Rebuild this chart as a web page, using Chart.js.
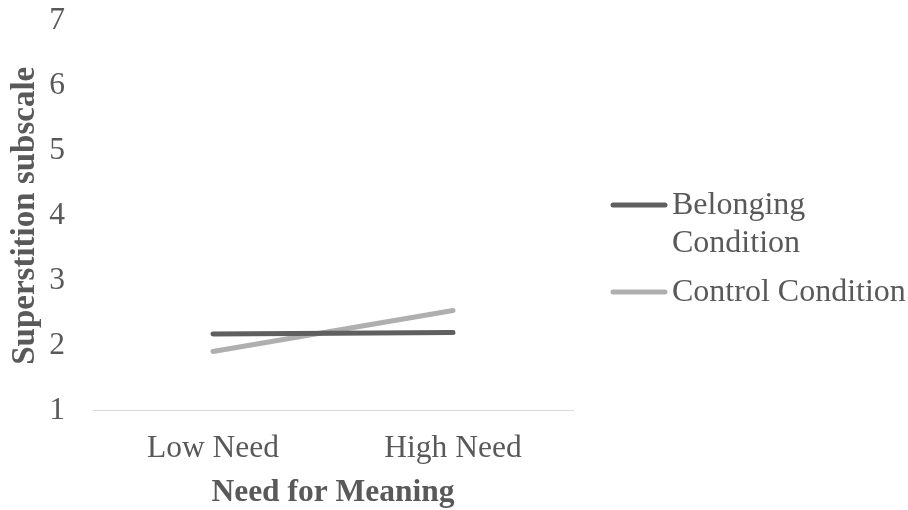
<!DOCTYPE html>
<html>
<head>
<meta charset="utf-8">
<style>
  html, body { margin: 0; padding: 0; background: #ffffff; }
  #wrap { width: 908px; height: 510px; position: relative; }
</style>
<script src="https://cdn.jsdelivr.net/npm/chart.js@4.4.1/dist/chart.umd.min.js"></script>
</head>
<body>
<div id="wrap"><canvas id="chart" width="908" height="510"></canvas></div>
<script>
// Categories and series
const categories = ['Low Need', 'High Need'];
const belongingValues = [2.18, 2.20];
const controlValues = [1.91, 2.54];
const seriesNames = [['Belonging', 'Condition'], ['Control Condition']];
const yTicks = [1, 2, 3, 4, 5, 6, 7];

const TEXT = '#595959';
const FONT = '"Liberation Serif", "Times New Roman", serif';

// Legend on the right, drawn with wrapped labels
const sideLegend = {
  id: 'sideLegend',
  afterDraw(chart) {
    const ctx = chart.ctx;
    const x0 = 613, x1 = 665, tx = 672;
    const rows = [
      { y: 205, ds: 0 },
      { y: 292, ds: 1 }
    ];
    ctx.save();
    ctx.font = '32px ' + FONT;
    ctx.fillStyle = TEXT;
    ctx.textBaseline = 'middle';
    ctx.textAlign = 'left';
    rows.forEach(r => {
      const ds = chart.data.datasets[r.ds];
      ctx.strokeStyle = ds.borderColor;
      ctx.lineWidth = 5;
      ctx.lineCap = 'round';
      ctx.beginPath();
      ctx.moveTo(x0, r.y);
      ctx.lineTo(x1, r.y);
      ctx.stroke();
      const lines = seriesNames[r.ds];
      lines.forEach((t, i) => ctx.fillText(t, tx, r.y + 1 + i * 38));
    });
    ctx.restore();
  }
};

new Chart(document.getElementById('chart'), {
  type: 'line',
  data: {
    labels: categories,
    datasets: [
      {
        label: seriesNames[0].join(' '),
        data: belongingValues,
        borderColor: '#5f5f5f',
        backgroundColor: '#5f5f5f',
        borderWidth: 5,
        borderCapStyle: 'round',
        pointRadius: 0,
        tension: 0
      },
      {
        label: seriesNames[1].join(' '),
        data: controlValues,
        borderColor: '#afafaf',
        backgroundColor: '#afafaf',
        borderWidth: 5,
        borderCapStyle: 'round',
        pointRadius: 0,
        tension: 0
      }
    ]
  },
  options: {
    responsive: false,
    animation: false,
    layout: { padding: { left: 0, right: 335, top: 21, bottom: 0 } },
    plugins: {
      legend: { display: false },
      tooltip: { enabled: false }
    },
    scales: {
      x: {
        offset: true,
        afterFit(scale) {
          scale.height = 99.5;
        },
        grid: { display: false, drawTicks: false },
        border: { display: true, color: '#d9d9d9', width: 1 },
        ticks: { color: TEXT, font: { family: FONT, size: 31.5 }, padding: 19 },
        title: {
          display: true,
          text: 'Need for Meaning',
          color: TEXT,
          font: { family: FONT, size: 31.5, weight: 'bold', lineHeight: 1.0 },
          padding: { top: 0, bottom: 1 }
        }
      },
      y: {
        min: 1,
        max: 7,
        afterBuildTicks(scale) { scale.ticks = yTicks.map(v => ({ value: v })); },
        afterFit(scale) {
          scale.width = 93;
          scale.paddingTop = 0;
          scale.paddingBottom = 0;
        },
        grid: { display: false, drawTicks: false },
        border: { display: false },
        ticks: { color: TEXT, font: { family: FONT, size: 31.5 }, padding: 28 },
        title: {
          display: true,
          text: 'Superstition subscale',
          color: TEXT,
          font: { family: FONT, size: 33, weight: 'bold' },
          padding: { top: 6, bottom: 0 }
        }
      }
    }
  },
  plugins: [sideLegend]
});
</script>
</body>
</html>
